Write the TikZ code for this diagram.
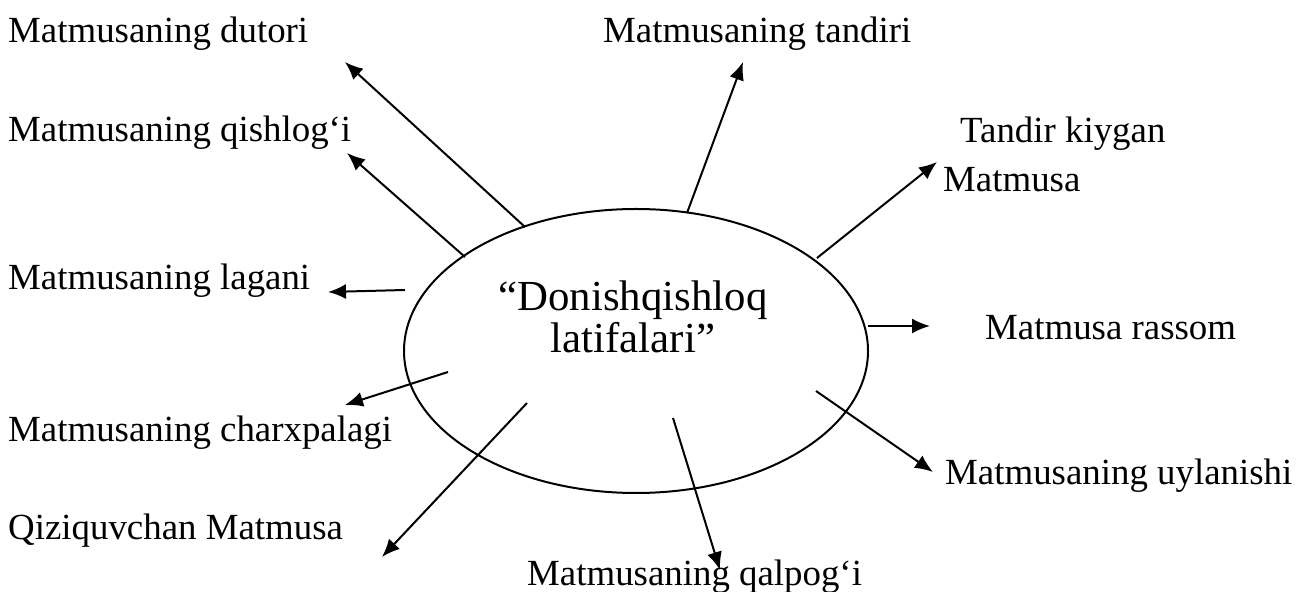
\documentclass[tikz,border=0pt]{standalone}
\usepackage{fontspec}
\setmainfont{Liberation Serif}
\usetikzlibrary{arrows.meta,shapes.geometric}
\tikzset{
  item/.style={anchor=base west,inner sep=0pt,font=\fontsize{37}{49}\selectfont},
  hub/.style={draw,ellipse,line width=2bp,minimum width=464bp,minimum height=284bp,inner sep=0pt},
  link/.style={black,line width=2bp,-{Latex[length=18bp,width=15bp]}},
}
\begin{document}
\begin{tikzpicture}[line join=bevel]
\useasboundingbox (0bp,0bp) rectangle (1306bp,592bp);
%%
\node (hub) at (636bp,241bp) [hub] {};
  \node (title) at (633bp,275bp) [align=center,inner sep=0pt,font=\fontsize{43}{42}\selectfont] {“Donishqishloq\\latifalari”};
%%
\node (node_dutori) at (8bp,549bp) [item] {Matmusaning dutori};
  \node (node_tandiri) at (603bp,549bp) [item] {Matmusaning tandiri};
  \node (node_qishlogi) at (8bp,450bp) [item] {Matmusaning qishlog‘i};
  \node (node_kiygan) at (943bp,475.3bp) [item,anchor=north west,align=left] {\hspace*{17bp}Tandir kiygan\\Matmusa};
  \node (node_lagani) at (8bp,302bp) [item] {Matmusaning lagani};
  \node (node_rassom) at (985bp,252bp) [item] {Matmusa rassom};
  \node (node_charx) at (8bp,150bp) [item] {Matmusaning charxpalagi};
  \node (node_uylanishi) at (945bp,107bp) [item] {Matmusaning uylanishi};
  \node (node_qiziq) at (8bp,52bp) [item] {Qiziquvchan Matmusa};
  \node (node_qalpogi) at (527bp,7bp) [item] {Matmusaning qalpog‘i};
%%
\coordinate (from_dutori) at (525bp,365bp);
  \coordinate (to_dutori) at (345bp,530bp);
  \coordinate (from_qishlogi) at (465bp,335bp);
  \coordinate (to_qishlogi) at (347bp,439bp);
  \coordinate (from_tandiri) at (687bp,379bp);
  \coordinate (to_tandiri) at (743bp,530bp);
  \coordinate (from_kiygan) at (817bp,334bp);
  \coordinate (to_kiygan) at (937bp,430bp);
  \coordinate (from_lagani) at (405bp,302bp);
  \coordinate (to_lagani) at (328bp,300bp);
  \coordinate (from_charx) at (448bp,220bp);
  \coordinate (to_charx) at (345bp,187bp);
  \coordinate (from_qiziq) at (527bp,189bp);
  \coordinate (to_qiziq) at (382bp,35bp);
  \coordinate (from_qalpogi) at (673bp,174bp);
  \coordinate (to_qalpogi) at (720bp,22bp);
  \coordinate (from_uylanishi) at (816bp,201bp);
  \coordinate (to_uylanishi) at (933bp,120bp);
  \coordinate (from_rassom) at (868bp,266bp);
  \coordinate (to_rassom) at (930bp,266bp);
%
\draw [link] (from_dutori) -- (to_dutori);
  \draw [link] (from_qishlogi) -- (to_qishlogi);
  \draw [link] (from_tandiri) -- (to_tandiri);
  \draw [link] (from_kiygan) -- (to_kiygan);
  \draw [link] (from_lagani) -- (to_lagani);
  \draw [link] (from_charx) -- (to_charx);
  \draw [link] (from_qiziq) -- (to_qiziq);
  \draw [link] (from_qalpogi) -- (to_qalpogi);
  \draw [link] (from_uylanishi) -- (to_uylanishi);
  \draw [link] (from_rassom) -- (to_rassom);
%
\end{tikzpicture}
\end{document}
